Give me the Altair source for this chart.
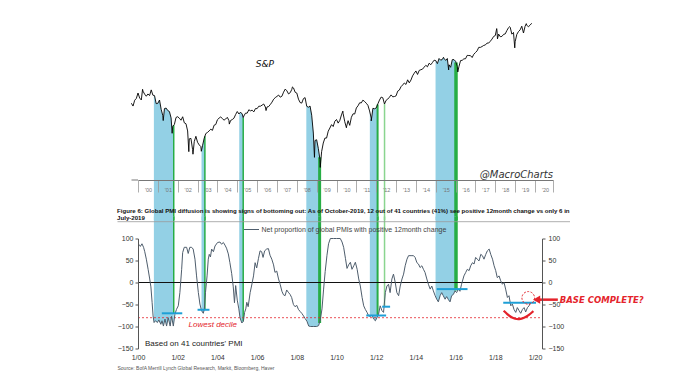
import altair as alt
import numpy as np
import pandas as pd

# ---------------- data ----------------
# S&P 500 month-end closes, Aug-1999 .. Oct-2019
sp_start = "1999-08"
sp_close = [
    1320.41, 1282.71, 1362.93, 1388.91, 1469.25,
    1394.46, 1366.42, 1498.58, 1452.43, 1420.60, 1454.60, 1430.83, 1517.68, 1436.51, 1429.40, 1314.95, 1320.28,
    1366.01, 1239.94, 1160.33, 1249.46, 1255.82, 1224.42, 1211.23, 1133.58, 1040.94, 1059.78, 1139.45, 1148.08,
    1130.20, 1106.73, 1147.39, 1076.92, 1067.14, 989.82, 911.62, 916.07, 815.28, 885.76, 936.31, 879.82,
    855.70, 841.15, 848.18, 916.92, 963.59, 974.50, 990.31, 1008.01, 995.97, 1050.71, 1058.20, 1111.92,
    1131.13, 1144.94, 1126.21, 1107.30, 1120.68, 1140.84, 1101.72, 1104.24, 1114.58, 1130.20, 1173.82, 1211.92,
    1181.27, 1203.60, 1180.59, 1156.85, 1191.50, 1191.33, 1234.18, 1220.33, 1228.81, 1207.01, 1249.48, 1248.29,
    1280.08, 1280.66, 1294.83, 1310.61, 1270.09, 1270.20, 1276.66, 1303.82, 1335.85, 1377.94, 1400.63, 1418.30,
    1438.24, 1406.82, 1420.86, 1482.37, 1530.62, 1503.35, 1455.27, 1473.99, 1526.75, 1549.38, 1481.14, 1468.36,
    1378.55, 1330.63, 1322.70, 1385.59, 1400.38, 1280.00, 1267.38, 1282.83, 1166.36, 968.75, 896.24, 903.25,
    825.88, 735.09, 797.87, 872.81, 919.14, 919.32, 987.48, 1020.62, 1057.08, 1036.19, 1095.63, 1115.10,
    1073.87, 1104.49, 1169.43, 1186.69, 1089.41, 1030.71, 1101.60, 1049.33, 1141.20, 1183.26, 1180.55, 1257.64,
    1286.12, 1327.22, 1325.83, 1363.61, 1345.20, 1320.64, 1292.28, 1218.89, 1131.42, 1253.30, 1246.96, 1257.60,
    1312.41, 1365.68, 1408.47, 1397.91, 1310.33, 1362.16, 1379.32, 1406.58, 1440.67, 1412.16, 1416.18, 1426.19,
    1498.11, 1514.68, 1569.19, 1597.57, 1630.74, 1606.28, 1685.73, 1632.97, 1681.55, 1756.54, 1805.81, 1848.36,
    1782.59, 1859.45, 1872.34, 1883.95, 1923.57, 1960.23, 1930.67, 2003.37, 1972.29, 2018.05, 2067.56, 2058.90,
    1994.99, 2104.50, 2067.89, 2085.51, 2107.39, 2063.11, 2103.84, 1972.18, 1920.03, 2079.36, 2080.41, 2043.94,
    1940.24, 1932.23, 2059.74, 2065.30, 2096.95, 2098.86, 2173.60, 2170.95, 2168.27, 2126.15, 2198.81, 2238.83,
    2278.87, 2363.64, 2362.72, 2384.20, 2411.80, 2423.41, 2470.30, 2471.65, 2519.36, 2575.26, 2647.58, 2673.61,
    2823.81, 2713.83, 2640.87, 2648.05, 2705.27, 2718.37, 2816.29, 2901.52, 2913.98, 2711.74, 2760.17, 2506.85,
    2704.10, 2784.49, 2834.40, 2945.83, 2752.06, 2941.76, 2980.38, 2926.46, 2976.74, 3037.56,
]
# intra-month highs / lows (decimal year, level)
sp_extra_x = [2000.23, 2001.27, 2001.72, 2002.56, 2002.77, 2003.19, 2004.60, 2005.30, 2006.45, 2007.78,
              2008.89, 2009.18, 2010.32, 2010.50, 2011.33, 2011.75, 2015.39, 2015.65, 2016.11, 2018.07,
              2018.11, 2018.72, 2018.98, 2019.42, 2019.56]
sp_extra_v = [1527, 1103, 966, 798, 777, 801, 1063, 1137, 1224, 1565,
              752, 677, 1217, 1023, 1364, 1099, 2131, 1868, 1829, 2873,
              2581, 2931, 2351, 2744, 3025]

# Net proportion of global PMIs with positive 12-month change (decimal year, %)
pmi_x = [
    2000.00, 2000.06, 2000.12, 2000.20, 2000.28, 2000.34, 2000.42, 2000.51, 2000.59, 2000.65, 2000.71, 2000.76, 2000.81, 2000.88, 2000.98,
    2001.05, 2001.15, 2001.21, 2001.28, 2001.36, 2001.44, 2001.52, 2001.62, 2001.69, 2001.78, 2001.86, 2001.94,
    2002.03, 2002.11, 2002.20, 2002.25, 2002.33, 2002.45, 2002.53, 2002.61, 2002.70, 2002.78, 2002.87, 2002.95,
    2003.04, 2003.12, 2003.20, 2003.29, 2003.34, 2003.40, 2003.48, 2003.54, 2003.59, 2003.65, 2003.71, 2003.80, 2003.88,
    2004.01, 2004.13, 2004.21, 2004.30, 2004.38, 2004.46, 2004.55, 2004.63, 2004.72, 2004.80, 2004.86, 2004.92,
    2005.00, 2005.08, 2005.14, 2005.23, 2005.31, 2005.37, 2005.43, 2005.48, 2005.55, 2005.65, 2005.72, 2005.82, 2005.90, 2005.98,
    2006.07, 2006.15, 2006.23, 2006.30, 2006.38, 2006.48, 2006.57, 2006.65, 2006.74, 2006.83, 2006.90, 2006.99,
    2007.08, 2007.16, 2007.25, 2007.33, 2007.41, 2007.49, 2007.57, 2007.66, 2007.74, 2007.83, 2007.91,
    2008.00, 2008.08, 2008.17, 2008.25, 2008.34, 2008.42, 2008.51, 2008.60, 2008.70, 2008.85,
    2009.00, 2009.10, 2009.18, 2009.27, 2009.35, 2009.43, 2009.52, 2009.60, 2009.69, 2009.85,
    2010.00, 2010.19, 2010.28, 2010.36, 2010.45, 2010.53, 2010.61, 2010.70, 2010.78, 2010.87, 2010.95,
    2011.04, 2011.12, 2011.20, 2011.29, 2011.37, 2011.45, 2011.54, 2011.62, 2011.70, 2011.79, 2011.87, 2011.96,
    2012.04, 2012.12, 2012.20, 2012.29, 2012.37, 2012.46, 2012.54, 2012.62, 2012.70, 2012.79, 2012.87, 2012.96,
    2013.04, 2013.13, 2013.21, 2013.30, 2013.38, 2013.46, 2013.55, 2013.63, 2013.80, 2013.88, 2013.96,
    2014.05, 2014.13, 2014.21, 2014.30, 2014.38, 2014.46, 2014.55, 2014.63, 2014.72, 2014.80, 2014.88, 2014.97,
    2015.05, 2015.13, 2015.22, 2015.30, 2015.38, 2015.47, 2015.55, 2015.64, 2015.72, 2015.80, 2015.89, 2015.97,
    2016.05, 2016.14, 2016.22, 2016.30, 2016.42, 2016.51, 2016.59, 2016.68, 2016.76, 2016.85, 2016.93,
    2017.01, 2017.09, 2017.18, 2017.27, 2017.35, 2017.43, 2017.52, 2017.60, 2017.69, 2017.77, 2017.86, 2017.94,
    2018.02, 2018.10, 2018.19, 2018.27, 2018.36, 2018.44, 2018.52, 2018.61, 2018.69, 2018.78, 2018.86, 2018.94,
    2019.03, 2019.11, 2019.20, 2019.28, 2019.37, 2019.45, 2019.53, 2019.62, 2019.70, 2019.78,
]
pmi_v = [
    87, 86, 82, 88, 80, 70, 53, 30, 8, -10, -45, -76, -91, -87, -91,
    -85, -95, -87, -99, -83, -99, -80, -99, -77, -99, -72, -61,
    -53, -23, 30, 68, 80, 80, 66, 80, 80, 76, 53, 15,
    -23, -49, -64, -70, -61, -23, 15, 53, 64, 58, 76, 70, 83,
    91, 92, 87, 91, 85, 78, 65, 45, 20, -10, -46, -7,
    -40, -60, -80, -92, -88, -68, -60, -45, -55, -23, -8, 15, 45, 33,
    55, 72, 70, 57, 72, 76, 77, 62, 53, 40, 23, 26,
    8, -4, -20, -28, -30, -17, -22, -27, -34, -50, -55,
    -52, -61, -66, -70, -76, -82, -88, -99, -100, -100,
    -100, -98, -85, -60, -15, 25, 62, 88, 100, 100,
    100, 100, 92, 80, 55, 32, 40, 46, 30, 38, 46,
    30, 8, -8, -34, -53, -61, -68, -76, -77, -74, -83, -87,
    -80, -72, -53, -64, -68, -23, -8, -4, -23, 8, 19, 0,
    -23, -30, -8, 8, 19, 38, 53, 61, 61, 61, 57,
    45, 42, 34, 38, 30, 23, 8, -4, -15, -8, -19, -30,
    -38, -44, -30, -23, -30, -38, -32, -39, -44, -30, -27, -19,
    -23, -15, -20, -4, 15, 23, 30, 27, 38, 45, 42,
    57, 53, 49, 64, 61, 53, 64, 72, 76, 64, 53, 38,
    27, 11, 15, 4, -4, 0, -15, -34, -30, -53, -49, -61,
    -68, -57, -64, -70, -61, -57, -67, -57, -53, -45,
]

# shaded windows and signal lines
band_start = [2000.80, 2003.20, 2005.10, 2008.48, 2011.68, 2014.99]
band_end = [2001.80, 2003.37, 2005.30, 2009.17, 2012.07, 2016.02]
green_x = [2001.80, 2003.37, 2005.30, 2009.15, 2012.07, 2012.42, 2016.02]
green_w = [1.5, 1.5, 1.5, 3.0, 2.0, 1.5, 3.5]
green_light = [0, 0, 0, 0, 0, 1, 0]
green_pmi_end = [-70, -61, -88, -92, -75, -55, -18]
cyan_x1 = [2001.20, 2003.00, 2011.50, 2012.30, 2015.05, 2018.40]
cyan_x2 = [2002.23, 2003.60, 2012.50, 2012.70, 2016.60, 2020.05]
cyan_v = [-70, -62, -75, -55, -15, -46]
lowest_decile = [-80]
zero_line = [0]
smile_x = [2018.42, 2018.60, 2018.80, 2019.00, 2019.20, 2019.45, 2019.70, 2019.92]
smile_v = [-64, -72, -79, -83, -84, -81, -74, -65]
circle_x, circle_v = [2019.66], [-35]
arrow_x1, arrow_x2, arrow_v = [2020.08], [2021.15], [-39]
base_x, base_v = [2021.25], [-39]

top_ticks = list(range(2000, 2021))
bottom_ticks = list(range(2000, 2021, 2))
pmi_ticks = [-150, -100, -50, 0, 50, 100]

caption = ["Figure 6: Global PMI diffusion is showing signs of bottoming out: As of October-2019, 12 out of 41 countries (41%) see positive 12month change vs only 6 in",
           "July-2019"]
source = "Source: BofA Merrill Lynch Global Research, Markit, Bloomberg, Haver"
legend_label = "Net proportion of global PMIs with positive 12month change"

# ---------------- frames ----------------
months = pd.period_range(sp_start, periods=len(sp_close), freq="M")
sp = pd.DataFrame({
    "x": np.concatenate([np.asarray(months.year + months.month / 12.0, dtype=float), sp_extra_x]),
    "v": np.concatenate([sp_close, sp_extra_v]),
}).sort_values("x").reset_index(drop=True)
pmi = pd.DataFrame({"x": pmi_x, "v": pmi_v, "s": legend_label})


def sp_at(xs):
    return np.exp(np.interp(xs, sp["x"], np.log(sp["v"])))


def pmi_at(xs):
    return np.interp(xs, pmi["x"], pmi["v"])


top_rows, bot_rows = [], []
for i, (a, b) in enumerate(zip(band_start, band_end)):
    xs = [a] + sp[(sp.x > a) & (sp.x < b)]["x"].tolist() + [b]
    top_rows += [dict(x=x, v=v, band=i) for x, v in zip(xs, sp_at(xs))]
    xs = [a] + pmi[(pmi.x > a) & (pmi.x < b)]["x"].tolist() + [b]
    bot_rows += [dict(x=x, v=v, band=i) for x, v in zip(xs, pmi_at(xs))]
top_bands = pd.DataFrame(top_rows)
bot_bands = pd.DataFrame(bot_rows)

greens = pd.DataFrame({"x": green_x, "w": green_w, "light": green_light,
                       "sp": sp_at(green_x), "v": green_pmi_end})
cyans = pd.DataFrame({"x": cyan_x1, "x2": cyan_x2, "v": cyan_v})
smile = pd.DataFrame({"x": smile_x, "v": smile_v})
one = pd.DataFrame({"a": [0]})

# ---------------- style ----------------
BLUE = "#93d0e5"
GREEN = "#27ad45"
LGREEN = "#8ad58f"
CYAN = "#1e9fd6"
RED = "#e4232b"
LINE_C = "#4e5d6c"
FONT = "Liberation Sans"

TOP_W, TOP_H = 415, 161
BOT_W, BOT_H = 404, 110
PX_YR = 19.85
top_end = 2000 + TOP_W / PX_YR
bot_end = 2000 + BOT_W / PX_YR

# ---------------- top panel (S&P) ----------------
Xt = alt.X("x:Q", scale=alt.Scale(domain=[2000, top_end], nice=False, zero=False),
           axis=alt.Axis(values=top_ticks + [top_end], title=None, grid=False,
                         labelExpr="datum.value > 2020.5 ? '' : \"'\" + format(datum.value % 100, '02d')",
                         domainColor="#777", tickColor="#999", tickSize=12, tickWidth=0.8,
                         labelFontSize=5.5, labelColor="#777", labelOffset=10, labelPadding=-2.5,
                         labelBaseline="middle", labelFlush=False, zindex=1))
ylog = alt.Scale(type="log", domain=[594, 3175], nice=False)
Yt = alt.Y("v:Q", scale=ylog, axis=None)

t_band = alt.Chart(top_bands).mark_area(color=BLUE, clip=False, orient="vertical").encode(
    x=Xt, y=alt.Y("v:Q", scale=ylog, axis=None, stack=False), y2=alt.value(TOP_H + 40),
    detail="band:N")
t_green = alt.Chart(greens[greens.light == 0]).mark_rule(color=GREEN, clip=False).encode(
    x=Xt, y=alt.Y("sp:Q", scale=ylog, axis=None), y2=alt.value(TOP_H + 40),
    strokeWidth=alt.StrokeWidth("w:Q", scale=None))
t_green2 = alt.Chart(greens[greens.light == 1]).mark_rule(color=LGREEN, clip=False).encode(
    x=Xt, y=alt.Y("sp:Q", scale=ylog, axis=None), y2=alt.value(TOP_H + 40),
    strokeWidth=alt.StrokeWidth("w:Q", scale=None))
t_line = alt.Chart(sp).mark_line(color="black", strokeWidth=0.9, clip=False).encode(x=Xt, y=Yt)
t_axis_ext = alt.Chart(one).mark_rule(color="#777", strokeWidth=1, clip=False).encode(
    x=alt.value(-6.5), x2=alt.value(0), y=alt.value(TOP_H))
t_sp = alt.Chart(pd.DataFrame({"x": [2006.39], "v": [1990], "t": ["S&P"]})).mark_text(
    fontSize=9, fontStyle="italic", color="#111", font="DejaVu Sans").encode(x=Xt, y=Yt, text="t:N")
t_mc = alt.Chart(pd.DataFrame({"x": [top_end], "v": [607], "t": ["@MacroCharts"]})).mark_text(
    fontSize=10, fontStyle="italic", color="#333", align="right", baseline="alphabetic",
    font="DejaVu Sans").encode(x=Xt, y=Yt, text="t:N")

top = alt.layer(t_band, t_green, t_green2, t_line, t_axis_ext, t_sp, t_mc).properties(
    width=TOP_W, height=TOP_H)

# ---------------- bottom panel (PMI diffusion) ----------------
Xb = alt.X("x:Q", scale=alt.Scale(domain=[2000, bot_end], nice=False, zero=False),
           axis=alt.Axis(values=bottom_ticks, title=None, grid=False, domain=False, ticks=False,
                         labelExpr="'1/' + format(datum.value % 100, '02d')",
                         labelFontSize=7, labelColor="#333", labelPadding=5, labelFlush=False))
ypmi = alt.Scale(domain=[-150, 100], nice=False, zero=False)
left_axis = alt.Axis(values=pmi_ticks, title=None, grid=False, domainColor="#555", tickColor="#555",
                     tickSize=3, labelFontSize=7, labelColor="#333", labelPadding=2, zindex=1)
right_axis = alt.Axis(values=pmi_ticks, title=None, grid=False, domainColor="#555", tickColor="#555",
                      tickSize=3, labelFontSize=7, labelColor="#333", labelPadding=3, orient="right",
                      zindex=1)
Yb = alt.Y("v:Q", scale=ypmi, axis=left_axis)

b_band = alt.Chart(bot_bands).mark_area(color=BLUE, clip=False, orient="vertical").encode(
    x=Xb, y=alt.Y("v:Q", scale=ypmi, axis=left_axis, stack=False), y2=alt.value(-22), detail="band:N")
b_green = alt.Chart(greens[greens.light == 0]).mark_rule(color=GREEN, clip=False).encode(
    x=Xb, y=Yb, y2=alt.value(-22), strokeWidth=alt.StrokeWidth("w:Q", scale=None))
b_green2 = alt.Chart(greens[greens.light == 1]).mark_rule(color=LGREEN, clip=False).encode(
    x=Xb, y=Yb, y2=alt.value(-22), strokeWidth=alt.StrokeWidth("w:Q", scale=None))
b_zero = alt.Chart(pd.DataFrame({"v": zero_line})).mark_rule(color="#111", strokeWidth=1).encode(
    y=Yb, x=alt.value(0), x2=alt.value(BOT_W))
b_decile = alt.Chart(pd.DataFrame({"v": lowest_decile})).mark_rule(
    color=RED, strokeWidth=0.8, strokeDash=[2, 2]).encode(y=Yb, x=alt.value(0), x2=alt.value(BOT_W))
b_line = alt.Chart(pmi).mark_line(strokeWidth=1).encode(
    x=Xb, y=Yb,
    color=alt.Color("s:N", scale=alt.Scale(range=[LINE_C]),
                    legend=alt.Legend(orient="none", legendX=105.5, legendY=-17, title=None,
                                      symbolType="stroke", symbolSize=225, symbolStrokeWidth=1,
                                      labelFontSize=7, labelColor="#444", labelOffset=2, padding=0,
                                      labelLimit=400)))
b_cyan = alt.Chart(cyans).mark_rule(color=CYAN, strokeWidth=2).encode(x=Xb, x2="x2:Q", y=Yb)
b_smile = alt.Chart(smile).mark_line(color=RED, strokeWidth=2.2, interpolate="basis").encode(x=Xb, y=Yb)
b_circle = alt.Chart(pd.DataFrame({"x": circle_x, "v": circle_v})).mark_point(
    shape="circle", filled=False, color=RED, size=160, strokeWidth=1, strokeDash=[2, 1.5],
    opacity=1, clip=False).encode(x=Xb, y=Yb)
b_arrow = alt.Chart(pd.DataFrame({"x": arrow_x1, "x2": arrow_x2, "v": arrow_v})).mark_rule(
    color=RED, strokeWidth=2.5, clip=False).encode(x=Xb, x2="x2:Q", y=Yb)
b_head = alt.Chart(pd.DataFrame({"x": arrow_x1, "v": arrow_v})).mark_point(
    shape="triangle-left", filled=True, color=RED, size=70, opacity=1, clip=False).encode(x=Xb, y=Yb)
b_base = alt.Chart(pd.DataFrame({"x": base_x, "v": base_v, "t": ["BASE COMPLETE?"]})).mark_text(
    color=RED, fontSize=8.5, fontStyle="italic", fontWeight="bold", font="DejaVu Sans",
    align="left", baseline="middle", clip=False).encode(x=Xb, y=Yb, text="t:N")
b_based = alt.Chart(pd.DataFrame({"x": [2000.35], "v": [-140], "t": ["Based on 41 countries' PMI"]})).mark_text(
    fontSize=8, color="#222", align="left", baseline="middle").encode(x=Xb, y=Yb, text="t:N")
b_decile_t = alt.Chart(pd.DataFrame({"x": [2003.77], "v": [-97], "t": ["Lowest decile"]})).mark_text(
    fontSize=8, color=RED, fontStyle="italic", baseline="middle").encode(x=Xb, y=Yb, text="t:N")
b_caprule = alt.Chart(one).mark_rule(color="#999", strokeWidth=0.8, clip=False).encode(
    x=alt.value(-20.5), x2=alt.value(432), y=alt.value(-16.8))
b_source = alt.Chart(one).mark_text(text=source, fontSize=5, color="#555", align="left",
                                    baseline="middle", clip=False).encode(
    x=alt.value(-20.5), y=alt.value(BOT_H + 19))

inner = alt.layer(b_band, b_green, b_green2, b_zero, b_decile, b_line, b_cyan, b_smile, b_circle,
                  b_arrow, b_head, b_base, b_based, b_decile_t, b_caprule, b_source)
right = alt.Chart(pmi).mark_line(opacity=0).encode(x=Xb, y=alt.Y("v:Q", scale=ypmi, axis=right_axis))

bottom = alt.layer(inner, right).resolve_scale(y="independent").properties(
    width=BOT_W, height=BOT_H,
    title=alt.TitleParams(text=caption, anchor="start", frame="bounds", fontSize=6.1,
                          fontWeight="bold", font=FONT, color="#111", lineHeight=6.5, offset=-6))

chart = alt.vconcat(top, bottom, spacing=58.5, bounds="flush").resolve_legend(
    color="independent"
).properties(
    padding={"left": 108, "top": 10, "right": 5, "bottom": 5}
).configure(font=FONT).configure_view(stroke="transparent")

chart.save("out.html", embed_options={"renderer": "svg", "actions": False})
